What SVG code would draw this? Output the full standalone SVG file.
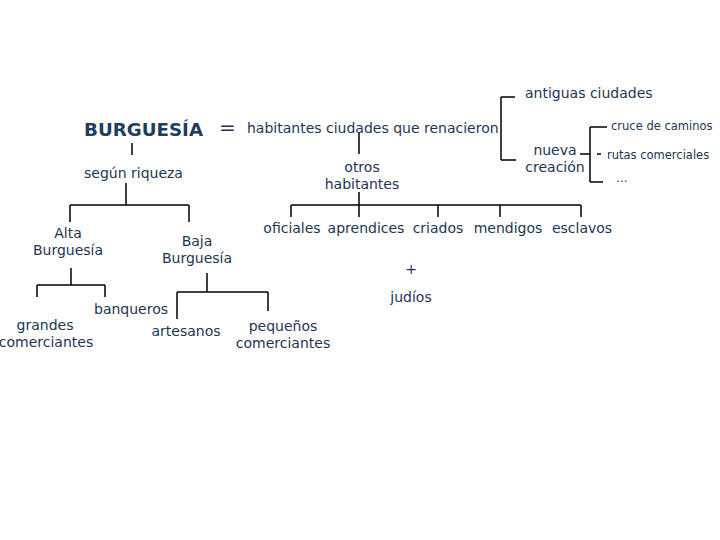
<svg xmlns="http://www.w3.org/2000/svg" width="720" height="540" viewBox="0 0 720 540">
<style>
text{font-family:"DejaVu Sans","Liberation Sans",sans-serif;font-size:14px;fill:#1b3554}
.c{text-anchor:middle}
.s{font-size:11.5px}
.b{font-weight:bold;font-size:17px;fill:#1f3d5e}
.ln line{stroke:#000;stroke-width:1.5;fill:none}
</style>
<rect width="720" height="540" fill="#fff"/>
<g class="ln" id="connectors">
<line x1="132" y1="143" x2="132" y2="155"/>
<line x1="126" y1="183" x2="126" y2="205"/>
<line x1="70" y1="205" x2="189" y2="205"/>
<line x1="70" y1="205" x2="70" y2="222"/>
<line x1="189" y1="205" x2="189" y2="222"/>
<line x1="71" y1="268" x2="71" y2="285"/>
<line x1="37" y1="285" x2="105" y2="285"/>
<line x1="37" y1="285" x2="37" y2="297"/>
<line x1="105" y1="285" x2="105" y2="297"/>
<line x1="207" y1="273" x2="207" y2="292"/>
<line x1="177" y1="292" x2="268" y2="292"/>
<line x1="177" y1="292" x2="177" y2="319"/>
<line x1="268" y1="292" x2="268" y2="311"/>
<line x1="359" y1="132" x2="359" y2="154"/>
<line x1="359" y1="192" x2="359" y2="205"/>
<line x1="291" y1="205" x2="581" y2="205"/>
<line x1="291" y1="205" x2="291" y2="217"/>
<line x1="359" y1="205" x2="359" y2="217"/>
<line x1="438" y1="205" x2="438" y2="217"/>
<line x1="500" y1="205" x2="500" y2="217"/>
<line x1="581" y1="205" x2="581" y2="217"/>
<line x1="501" y1="97" x2="501" y2="160"/>
<line x1="501" y1="97" x2="515" y2="97"/>
<line x1="501" y1="160" x2="516" y2="160"/>
<line x1="580" y1="154" x2="590" y2="154"/>
<line x1="590" y1="127" x2="590" y2="182"/>
<line x1="590" y1="127" x2="607" y2="127"/>
<line x1="590" y1="182" x2="603" y2="182"/>
<line x1="597" y1="154" x2="601" y2="154"/>
</g>
<g id="burguesia"><text class="b" x="84" y="136" textLength="119" lengthAdjust="spacingAndGlyphs">BURGUESÍA</text></g>
<g id="igual"><text x="219" y="134" style="font-size:20px">=</text></g>
<g id="habitantes"><text x="247" y="133">habitantes ciudades que renacieron</text></g>
<g id="segun"><text x="84" y="178">según riqueza</text></g>
<g id="alta"><text class="c" x="68" y="238">Alta</text><text class="c" x="68" y="255">Burguesía</text></g>
<g id="baja"><text class="c" x="197" y="246">Baja</text><text class="c" x="197" y="263">Burguesía</text></g>
<g id="banqueros"><text x="94" y="314">banqueros</text></g>
<g id="grandes"><text class="c" x="45" y="330">grandes</text><text class="c" x="46" y="347">comerciantes</text></g>
<g id="artesanos"><text class="c" x="186" y="336">artesanos</text></g>
<g id="pequenos"><text class="c" x="283" y="331">pequeños</text><text class="c" x="283" y="348">comerciantes</text></g>
<g id="otros"><text class="c" x="362" y="172">otros</text><text class="c" x="362" y="189">habitantes</text></g>
<g id="oficiales"><text class="c" x="292" y="233">oficiales</text></g>
<g id="aprendices"><text class="c" x="366" y="233">aprendices</text></g>
<g id="criados"><text class="c" x="438" y="233">criados</text></g>
<g id="mendigos"><text class="c" x="508" y="233">mendigos</text></g>
<g id="esclavos"><text class="c" x="582" y="233">esclavos</text></g>
<g id="mas"><text class="c" x="411" y="274">+</text></g>
<g id="judios"><text class="c" x="411" y="302">judíos</text></g>
<g id="antiguas"><text x="525" y="98">antiguas ciudades</text></g>
<g id="nueva"><text class="c" x="555" y="155">nueva</text><text class="c" x="555" y="172">creación</text></g>
<g id="cruce"><text class="s" x="611" y="130">cruce de caminos</text></g>
<g id="rutas"><text class="s" x="607" y="159">rutas comerciales</text></g>
<g id="etc"><text class="s" x="616" y="182">…</text></g>
</svg>
